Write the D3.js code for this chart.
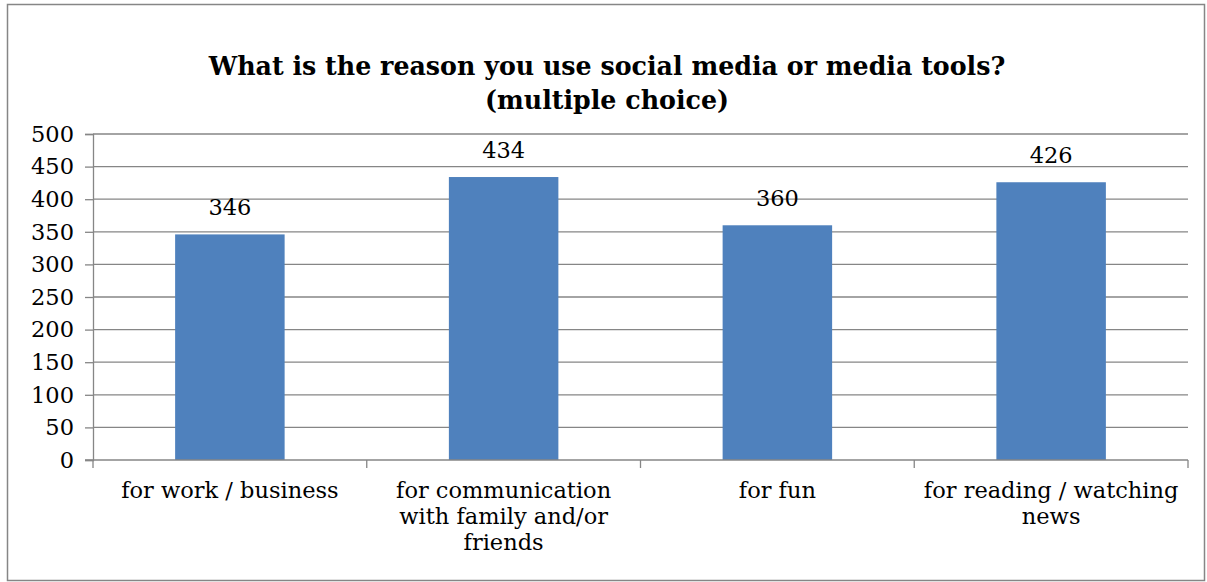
<!DOCTYPE html>
<html>
<head>
<meta charset="utf-8">
<script src="https://cdn.jsdelivr.net/npm/d3@7"></script>
<style>
  html, body { margin: 0; padding: 0; background: #fff; }
  svg { display: block; }
</style>
</head>
<body>
<svg id="chart" width="1207" height="582"></svg>
<script>
const categories = ["for work / business", "for communication with family and/or friends", "for fun", "for reading / watching news"];
const values = [346, 434, 360, 426];
const yTicks = [0, 50, 100, 150, 200, 250, 300, 350, 400, 450, 500];
const titleLines = ["What is the reason you use social media or media tools?", "(multiple choice)"];

const W = 1207, H = 582;
const margin = { left: 93, right: 19, top: 134, bottom: 122 };
const svg = d3.select("#chart");
const font = "'DejaVu Serif', serif";
const fs = 22.5;
const gray = "#868686";

svg.append("rect").attr("x", 7.5).attr("y", 4.5).attr("width", W - 10).attr("height", H - 6)
  .attr("fill", "#fff").attr("stroke", gray).attr("stroke-width", 1.5);

const x = d3.scaleBand().domain(categories).range([margin.left, W - margin.right]).paddingInner(0.6).paddingOuter(0.3);
const y = d3.scaleLinear().domain([0, 500]).range([H - margin.bottom, margin.top]);

// gridlines
svg.append("g").selectAll("line").data(yTicks.filter(d => d > 0)).join("line")
  .attr("x1", margin.left).attr("x2", W - margin.right)
  .attr("y1", d => y(d)).attr("y2", d => y(d))
  .attr("stroke", gray).attr("stroke-width", 1.3);

// bars
svg.append("g").selectAll("rect").data(values).join("rect")
  .attr("x", (d, i) => x(categories[i]))
  .attr("width", x.bandwidth())
  .attr("y", d => y(d))
  .attr("height", d => y(0) - y(d))
  .attr("fill", "#4F81BD");

// value labels
svg.append("g").selectAll("text").data(values).join("text")
  .attr("x", (d, i) => x(categories[i]) + x.bandwidth() / 2)
  .attr("y", d => y(d) - 19)
  .attr("text-anchor", "middle")
  .attr("font-family", font).attr("font-size", fs).attr("fill", "#000")
  .text(d => d);

// y axis
const yAxis = svg.append("g").attr("transform", `translate(${margin.left},0)`)
  .call(d3.axisLeft(y).tickValues(yTicks).tickSize(8).tickPadding(11).tickFormat(d3.format("d")));
yAxis.select(".domain").attr("stroke", gray).attr("stroke-width", 1.3);
yAxis.selectAll(".tick line").attr("stroke", gray).attr("stroke-width", 1.3);
yAxis.selectAll(".tick text").attr("font-family", font).attr("font-size", fs).attr("fill", "#000");

// x axis
const outer = d3.scaleLinear().domain([0, categories.length]).range([margin.left, W - margin.right]);
const xg = svg.append("g").attr("transform", `translate(0,${y(0)})`);
xg.append("line").attr("x1", margin.left - 8).attr("x2", W - margin.right)
  .attr("stroke", gray).attr("stroke-width", 1.3);
xg.selectAll("line.tk").data(d3.range(categories.length + 1)).join("line").attr("class", "tk")
  .attr("x1", d => outer(d)).attr("x2", d => outer(d)).attr("y1", 0).attr("y2", 8)
  .attr("stroke", gray).attr("stroke-width", 1.3);

// category labels with wrapping
const maxW = 262;
categories.forEach((c, i) => {
  const t = xg.append("text").attr("text-anchor", "middle")
    .attr("font-family", font).attr("font-size", fs).attr("fill", "#000");
  const cx = x(c) + x.bandwidth() / 2;
  const words = c.split(" ");
  let lines = [], cur = [];
  const probe = svg.append("text").attr("font-family", font).attr("font-size", fs);
  words.forEach(w => {
    const test = cur.concat([w]).join(" ");
    probe.text(test);
    if (probe.node().getComputedTextLength() > maxW && cur.length) { lines.push(cur.join(" ")); cur = [w]; }
    else cur.push(w);
  });
  lines.push(cur.join(" "));
  probe.remove();
  lines.forEach((l, k) => {
    t.append("tspan").attr("x", cx).attr("y", 38 + k * 26).text(l);
  });
});

// title
svg.append("g").selectAll("text").data(titleLines).join("text")
  .attr("x", (W + 7) / 2).attr("y", (d, i) => 75 + i * 34)
  .attr("text-anchor", "middle").attr("font-family", font).attr("font-weight", "bold")
  .attr("font-size", 25.3).attr("fill", "#000").text(d => d);
</script>
</body>
</html>
